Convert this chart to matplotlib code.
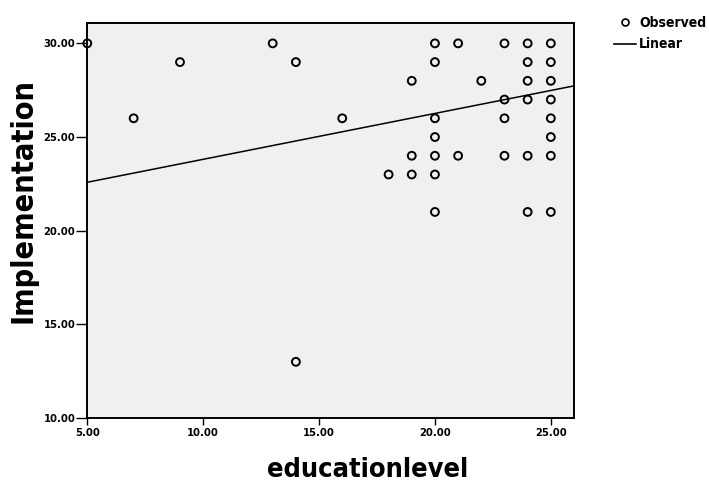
import numpy as np
import matplotlib
matplotlib.use("Agg")
from matplotlib import pyplot as plt
from matplotlib.lines import Line2D

plt.rcParams['font.family'] = ['DejaVu Sans']
plt.rcParams['font.stretch'] = 'condensed'

# observed points (education level, implementation score)
education = [5, 7, 9, 13, 14, 14, 16, 18,
             19, 19, 19,
             20, 20, 20, 20, 20, 20, 20,
             21, 21, 22,
             23, 23, 23, 23,
             24, 24, 24, 24, 24, 24,
             25, 25, 25, 25, 25, 25, 25, 25]
implementation = [30, 26, 29, 30, 29, 13, 26, 23,
                  28, 24, 23,
                  30, 29, 26, 25, 24, 23, 21,
                  30, 24, 28,
                  30, 27, 26, 24,
                  30, 29, 28, 27, 24, 21,
                  30, 29, 28, 27, 26, 25, 24, 21]
# linear fit (fit was on the full data, incl. repeats)
fit_intercept = 21.36
fit_slope = 0.245
x_ticks = [5, 10, 15, 20, 25]
y_ticks = [10, 15, 20, 25, 30]

x = np.array(education, dtype=float)
y = np.array(implementation, dtype=float)

fig = plt.figure(figsize=(7.09, 4.93), dpi=100)
ax = fig.add_axes([0.1231, 0.1521, 0.6865, 0.8006])
ax.set_facecolor('#f0f0f0')

ax.scatter(x, y, s=32, facecolors='none', edgecolors='black', linewidths=1.4, zorder=3,
           clip_on=False)
xl = np.array([5, 26])
ax.plot(xl, fit_intercept + fit_slope * xl, color='black', lw=1.1, zorder=2)

ax.set_xlim(5, 26)
ax.set_ylim(10, 31.07)
ax.set_xticks(x_ticks)
ax.set_yticks(y_ticks)
ax.set_xticklabels(['%.2f' % v for v in x_ticks], fontsize=8, fontweight='bold')
ax.set_yticklabels(['%.2f' % v for v in y_ticks], fontsize=8, fontweight='bold')
ax.tick_params(axis='x', direction='out', length=5, width=1, pad=2)
ax.tick_params(axis='y', direction='out', length=8, width=1, pad=0.5)
for sp in ax.spines.values():
    sp.set_linewidth(1.4)

ax.set_xlabel('educationlevel', fontsize=19.5, fontweight='bold', va='center')
ax.xaxis.set_label_coords(0.577, -0.132)
ax.set_ylabel('Implementation', fontsize=22, fontweight='bold', va='center')
ax.yaxis.set_label_coords(-0.132, 0.551)

handles = [Line2D([], [], marker='o', ls='none', mfc='none', mec='black', ms=5, mew=1.2),
           Line2D([], [], color='black', lw=1.2)]
fig.legend(handles, ['Observed', 'Linear'], loc='upper left', bbox_to_anchor=(0.866, 0.968),
           frameon=False, prop={'size': 10, 'weight': 'bold', 'stretch': 'condensed'},
           handlelength=1.6, handletextpad=0.2, labelspacing=0.55, borderpad=0,
           borderaxespad=0)

fig.savefig('out.png', dpi=100)
